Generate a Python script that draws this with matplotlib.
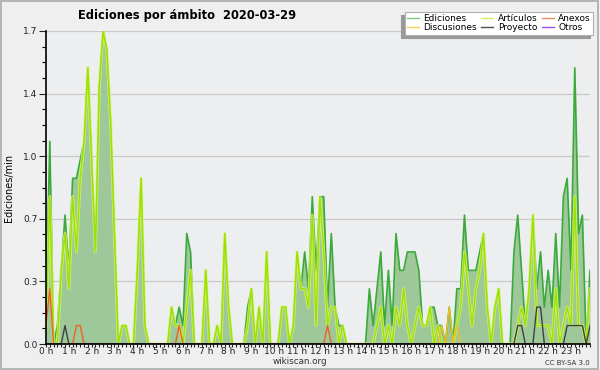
import numpy as np
import matplotlib
matplotlib.use('Agg')
import matplotlib.pyplot as plt
from matplotlib.ticker import FixedLocator, MultipleLocator, AutoMinorLocator
from matplotlib.patches import Rectangle

# edits per minute, one value per 10 minutes, 2020-03-29 00:00 -> 23:50
ediciones = [
    0.2, 1.1, 0.0, 0.1, 0.4, 0.7, 0.4, 0.9, 0.9, 1.0, 1.1, 1.5,
    1.0, 0.5, 1.4, 1.7, 1.6, 1.2, 0.6, 0.0, 0.1, 0.1, 0.0, 0.0,
    0.4, 0.9, 0.1, 0.0, 0.0, 0.0, 0.0, 0.0, 0.0, 0.2, 0.1, 0.2,
    0.1, 0.6, 0.5, 0.0, 0.0, 0.0, 0.4, 0.0, 0.0, 0.1, 0.0, 0.6,
    0.2, 0.0, 0.0, 0.0, 0.0, 0.2, 0.3, 0.0, 0.2, 0.0, 0.5, 0.0,
    0.0, 0.0, 0.2, 0.2, 0.0, 0.1, 0.5, 0.3, 0.5, 0.3, 0.8, 0.4,
    0.8, 0.8, 0.2, 0.6, 0.2, 0.1, 0.1, 0.0, 0.0, 0.0, 0.0, 0.0,
    0.0, 0.3, 0.1, 0.3, 0.5, 0.1, 0.4, 0.1, 0.6, 0.4, 0.4, 0.5,
    0.5, 0.5, 0.4, 0.1, 0.1, 0.2, 0.2, 0.1, 0.1, 0.0, 0.2, 0.0,
    0.3, 0.3, 0.7, 0.4, 0.4, 0.4, 0.5, 0.6, 0.2, 0.0, 0.2, 0.3,
    0.0, 0.0, 0.0, 0.5, 0.7, 0.4, 0.1, 0.3, 0.7, 0.3, 0.5, 0.2,
    0.4, 0.2, 0.6, 0.2, 0.8, 0.9, 0.4, 1.5, 0.6, 0.7, 0.0, 0.4,
]
articulos = [
    0.1, 0.8, 0.0, 0.0, 0.4, 0.6, 0.3, 0.8, 0.5, 0.9, 1.1, 1.5,
    1.0, 0.5, 1.4, 1.7, 1.6, 1.2, 0.6, 0.0, 0.1, 0.1, 0.0, 0.0,
    0.4, 0.9, 0.1, 0.0, 0.0, 0.0, 0.0, 0.0, 0.0, 0.2, 0.1, 0.1,
    0.0, 0.2, 0.4, 0.0, 0.0, 0.0, 0.4, 0.0, 0.0, 0.1, 0.0, 0.6,
    0.2, 0.0, 0.0, 0.0, 0.0, 0.1, 0.3, 0.0, 0.2, 0.0, 0.5, 0.0,
    0.0, 0.0, 0.2, 0.2, 0.0, 0.1, 0.5, 0.3, 0.3, 0.2, 0.7, 0.1,
    0.8, 0.5, 0.1, 0.2, 0.2, 0.0, 0.1, 0.0, 0.0, 0.0, 0.0, 0.0,
    0.0, 0.0, 0.0, 0.1, 0.2, 0.0, 0.1, 0.0, 0.2, 0.1, 0.3, 0.1,
    0.0, 0.1, 0.2, 0.1, 0.1, 0.2, 0.0, 0.1, 0.0, 0.0, 0.0, 0.0,
    0.1, 0.2, 0.5, 0.3, 0.1, 0.3, 0.4, 0.6, 0.2, 0.0, 0.2, 0.3,
    0.0, 0.0, 0.0, 0.0, 0.1, 0.2, 0.1, 0.3, 0.7, 0.1, 0.1, 0.1,
    0.1, 0.0, 0.3, 0.0, 0.1, 0.2, 0.1, 0.8, 0.1, 0.1, 0.0, 0.3,
]
anexos = [
    0.1, 0.3, 0.0, 0.0, 0.0, 0.0, 0.0, 0.0, 0.1, 0.1, 0.0, 0.0,
    0.0, 0.0, 0.0, 0.0, 0.0, 0.0, 0.0, 0.0, 0.0, 0.0, 0.0, 0.0,
    0.0, 0.0, 0.0, 0.0, 0.0, 0.0, 0.0, 0.0, 0.0, 0.0, 0.0, 0.1,
    0.0, 0.0, 0.0, 0.0, 0.0, 0.0, 0.0, 0.0, 0.0, 0.0, 0.0, 0.0,
    0.0, 0.0, 0.0, 0.0, 0.0, 0.0, 0.0, 0.0, 0.0, 0.0, 0.0, 0.0,
    0.0, 0.0, 0.0, 0.0, 0.0, 0.0, 0.0, 0.0, 0.0, 0.0, 0.0, 0.0,
    0.0, 0.0, 0.1, 0.0, 0.0, 0.0, 0.0, 0.0, 0.0, 0.0, 0.0, 0.0,
    0.0, 0.0, 0.0, 0.0, 0.0, 0.0, 0.0, 0.0, 0.0, 0.0, 0.0, 0.0,
    0.0, 0.0, 0.0, 0.0, 0.0, 0.0, 0.0, 0.0, 0.0, 0.0, 0.0, 0.0,
    0.0, 0.0, 0.0, 0.0, 0.0, 0.0, 0.0, 0.0, 0.0, 0.0, 0.0, 0.0,
    0.0, 0.0, 0.0, 0.0, 0.0, 0.0, 0.0, 0.0, 0.0, 0.0, 0.0, 0.0,
    0.0, 0.0, 0.0, 0.0, 0.0, 0.0, 0.0, 0.0, 0.0, 0.0, 0.0, 0.0,
]
discusiones = [
    0.0, 0.0, 0.0, 0.0, 0.0, 0.0, 0.0, 0.0, 0.0, 0.0, 0.0, 0.0,
    0.0, 0.0, 0.0, 0.0, 0.0, 0.0, 0.0, 0.0, 0.0, 0.0, 0.0, 0.0,
    0.0, 0.0, 0.0, 0.0, 0.0, 0.0, 0.0, 0.0, 0.0, 0.0, 0.0, 0.0,
    0.0, 0.0, 0.0, 0.0, 0.0, 0.0, 0.0, 0.0, 0.0, 0.0, 0.0, 0.0,
    0.0, 0.0, 0.0, 0.0, 0.0, 0.0, 0.0, 0.0, 0.0, 0.0, 0.0, 0.0,
    0.0, 0.0, 0.0, 0.0, 0.0, 0.0, 0.0, 0.0, 0.0, 0.0, 0.0, 0.0,
    0.0, 0.0, 0.0, 0.0, 0.0, 0.0, 0.0, 0.0, 0.0, 0.0, 0.0, 0.0,
    0.0, 0.0, 0.0, 0.0, 0.0, 0.0, 0.0, 0.0, 0.0, 0.0, 0.0, 0.0,
    0.0, 0.0, 0.0, 0.0, 0.0, 0.0, 0.0, 0.0, 0.1, 0.0, 0.2, 0.0,
    0.1, 0.0, 0.0, 0.0, 0.0, 0.0, 0.0, 0.0, 0.0, 0.0, 0.0, 0.0,
    0.0, 0.0, 0.0, 0.0, 0.0, 0.0, 0.0, 0.0, 0.0, 0.0, 0.0, 0.0,
    0.0, 0.0, 0.0, 0.0, 0.0, 0.0, 0.0, 0.0, 0.0, 0.0, 0.0, 0.0,
]
proyecto = [
    0.0, 0.0, 0.0, 0.0, 0.0, 0.1, 0.0, 0.0, 0.0, 0.0, 0.0, 0.0,
    0.0, 0.0, 0.0, 0.0, 0.0, 0.0, 0.0, 0.0, 0.0, 0.0, 0.0, 0.0,
    0.0, 0.0, 0.0, 0.0, 0.0, 0.0, 0.0, 0.0, 0.0, 0.0, 0.0, 0.0,
    0.0, 0.0, 0.0, 0.0, 0.0, 0.0, 0.0, 0.0, 0.0, 0.0, 0.0, 0.0,
    0.0, 0.0, 0.0, 0.0, 0.0, 0.0, 0.0, 0.0, 0.0, 0.0, 0.0, 0.0,
    0.0, 0.0, 0.0, 0.0, 0.0, 0.0, 0.0, 0.0, 0.0, 0.0, 0.0, 0.0,
    0.0, 0.0, 0.0, 0.0, 0.0, 0.0, 0.0, 0.0, 0.0, 0.0, 0.0, 0.0,
    0.0, 0.0, 0.0, 0.0, 0.0, 0.0, 0.0, 0.0, 0.0, 0.0, 0.0, 0.0,
    0.0, 0.0, 0.0, 0.0, 0.0, 0.0, 0.0, 0.0, 0.0, 0.0, 0.0, 0.0,
    0.0, 0.0, 0.0, 0.0, 0.0, 0.0, 0.0, 0.0, 0.0, 0.0, 0.0, 0.0,
    0.0, 0.0, 0.0, 0.0, 0.1, 0.1, 0.0, 0.0, 0.0, 0.2, 0.2, 0.0,
    0.0, 0.0, 0.0, 0.0, 0.0, 0.1, 0.1, 0.1, 0.1, 0.1, 0.0, 0.1,
]
otros = [0.0] * 144

hour_labels = ['%d h' % h for h in range(24)]
title = 'Ediciones por ámbito  2020-03-29'

x = np.arange(len(ediciones))

fig = plt.figure(figsize=(6, 3.7), dpi=100, facecolor='#efefef')
ax = fig.add_axes([46 / 600, 26 / 370, 544 / 600, 313 / 370])
ax.set_facecolor('#eceef0')

ax.fill_between(x, ediciones, color='#9ec89a', lw=0, zorder=1)
ax.plot(x, ediciones, color='#3aaa3a', lw=1.2, zorder=2)
ax.plot(x, articulos, color='#d8f870', lw=2.2, alpha=0.8, zorder=3)
ax.plot(x, articulos, color='#9ee000', lw=1.0, zorder=3)
ax.plot(x, anexos, color='#f06020', lw=1.0, zorder=4)
ax.plot(x, discusiones, color='#f0c020', lw=1.0, zorder=4)
ax.plot(x, proyecto, color='#404040', lw=1.0, zorder=4)
ax.plot(x, otros, color='#9040e0', lw=1.0, zorder=4)

ax.set_xlim(0, len(x) - 1)
ax.set_ylim(0, 1.7)

yt = np.linspace(0, 1.7, 6)
ax.yaxis.set_major_locator(FixedLocator(yt))
ax.set_yticklabels(['%.1f' % v for v in yt])
ax.yaxis.set_minor_locator(AutoMinorLocator(4))
ax.xaxis.set_major_locator(FixedLocator(np.arange(24) * 6))
ax.set_xticklabels(hour_labels)
ax.xaxis.set_minor_locator(MultipleLocator(1))

ax.tick_params(axis='y', which='major', length=5, width=0.8, labelsize=6.5, pad=1, colors='#222222')
ax.tick_params(axis='y', which='minor', length=3, width=0.8)
ax.tick_params(axis='x', which='both', length=2, width=0.8, labelsize=6.5, pad=0, colors='#222222')

ax.grid(axis='y', which='major', color='#c8c8c8', lw=0.9, zorder=0)
ax.set_axisbelow(True)
for s in ['top', 'right']:
    ax.spines[s].set_visible(False)
for s in ['left', 'bottom']:
    ax.spines[s].set_color('black')
    ax.spines[s].set_linewidth(1.2)
    ax.spines[s].set_zorder(5)

ax.set_ylabel('Ediciones/min', fontsize=7, labelpad=7)

fig.text(187 / 600, 1 - 16 / 370, title, ha='center', va='center', fontsize=8.3, fontweight='bold')
fig.text(300 / 600, 1 - 362 / 370, 'wikiscan.org', ha='center', va='center', fontsize=6.3, color='#333333')
fig.text(590 / 600, 1 - 363 / 370, 'CC BY-SA 3.0', ha='right', va='center', fontsize=5, color='#333333')

legend_names = ['Ediciones', 'Discusiones', 'Artículos', 'Proyecto', 'Anexos', 'Otros']
legend_colors = ['#80c880', '#f8d050', '#d0f060', '#505050', '#f09060', '#a050f0']
handles = [plt.Line2D([], [], color=c, lw=1) for c in legend_colors]
leg = fig.legend(handles, legend_names, ncol=3, loc='upper right',
                 bbox_to_anchor=(593 / 600, 1 - 12 / 370), fontsize=6.5,
                 frameon=True, fancybox=False,
                 shadow={'color': '#999999', 'alpha': 1, 'ox': -2.5, 'oy': -2.5},
                 borderpad=0.25, labelspacing=0.0, columnspacing=0.5,
                 handlelength=1.3, handletextpad=0.5, borderaxespad=0)
leg.get_frame().set_edgecolor('#b0b0b0')
leg.get_frame().set_linewidth(0.8)

fig.patches.append(Rectangle((0.002, 0.003), 0.995, 0.994, transform=fig.transFigure,
                             fill=False, edgecolor='#aaaaaa', lw=1.2))

fig.savefig('out.png', dpi=100, facecolor=fig.get_facecolor())
